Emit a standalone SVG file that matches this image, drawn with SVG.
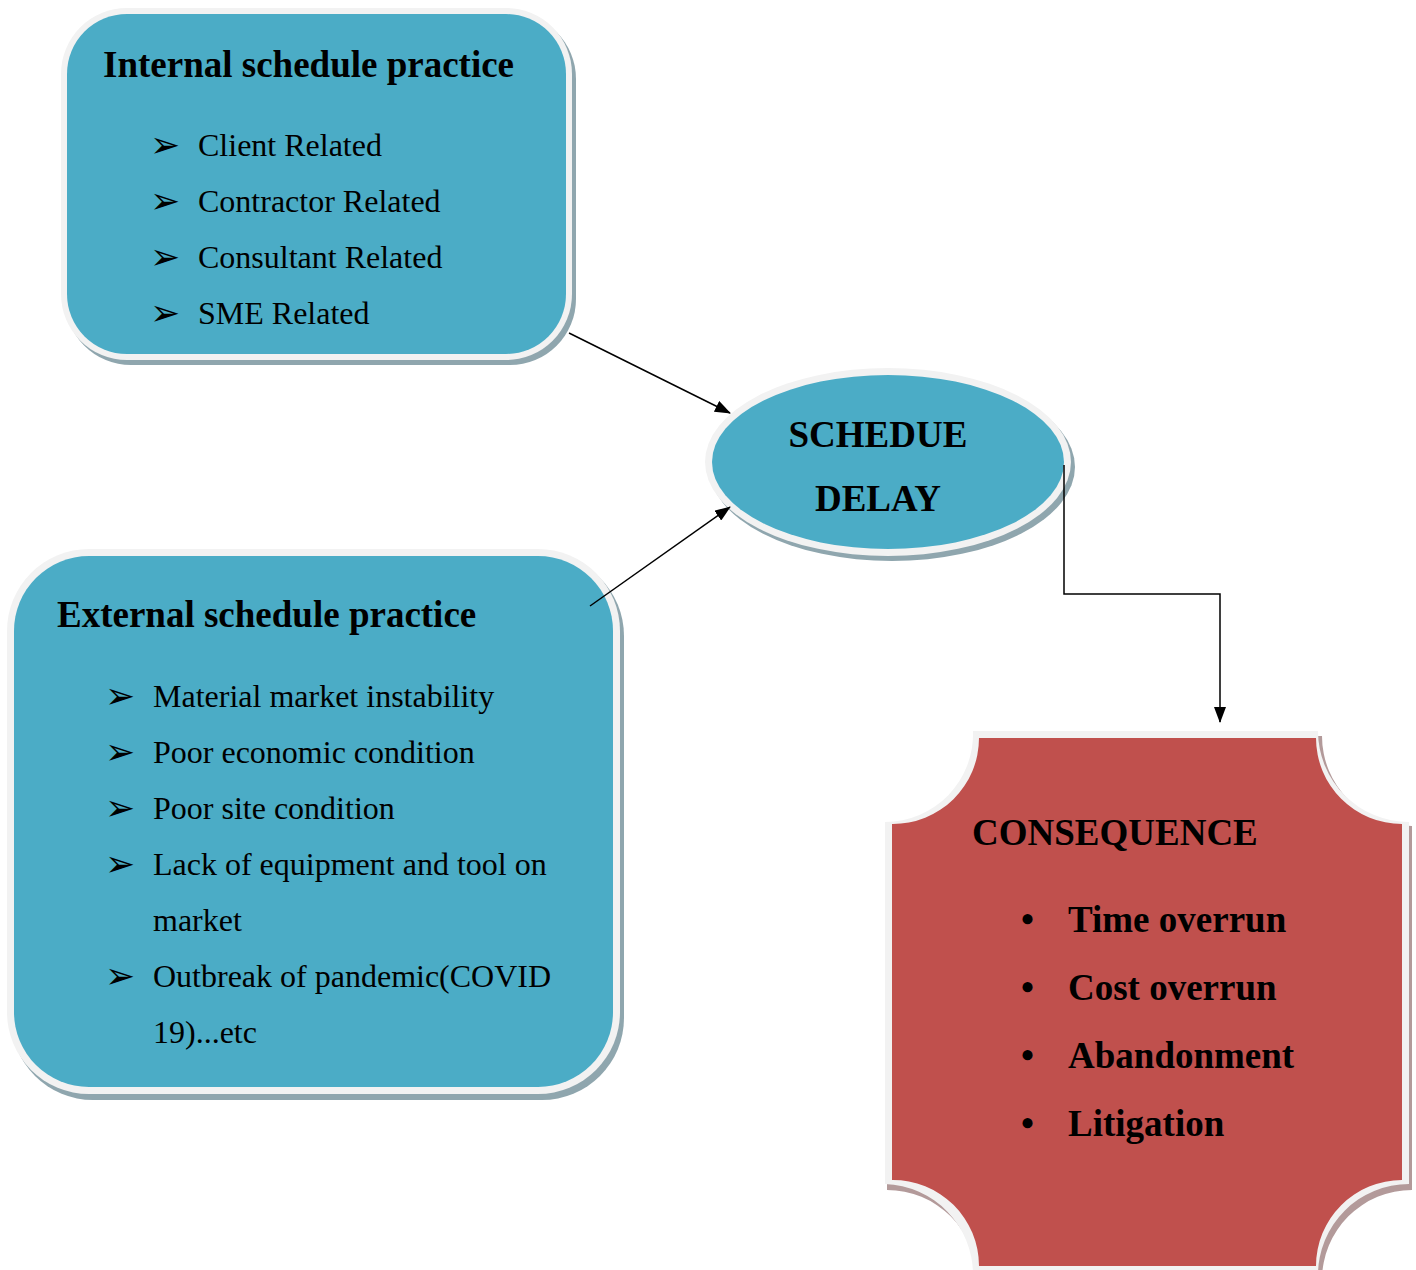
<svg xmlns="http://www.w3.org/2000/svg" width="1416" height="1270" viewBox="0 0 1416 1270">
<style>
.t{font-family:"Liberation Serif","Times New Roman",serif;fill:#000}
.h{font-weight:bold;font-size:37px}
.b{font-size:32px}
.bb{font-weight:bold;font-size:37px}
.ar{font-family:"DejaVu Sans",sans-serif;font-size:36px;fill:#000}
.blue{fill:#4bacc6}
.red{fill:#c0504d}
.rim{fill:#f2f2f2}
.shb{fill:#8fa6ae}
.shr{fill:#b39a9a}
.con{stroke:#000;stroke-width:1.5;fill:none}
</style>
<defs>
<marker id="ah" markerWidth="16" markerHeight="12" refX="15" refY="6" orient="auto" markerUnits="userSpaceOnUse">
<path d="M0,0 L16,6 L0,12 Z" fill="#000"/>
</marker>
</defs>
<rect width="1416" height="1270" fill="#fff"/>

<g id="internal">
<rect class="shb" x="65" y="13" width="511" height="352" rx="66"/>
<rect class="rim" x="61" y="8" width="511" height="352" rx="66"/>
<rect class="blue" x="67" y="14" width="499" height="340" rx="60"/>
<text class="t h" x="103" y="77">Internal schedule practice</text>
<text class="ar" x="150" y="157">➢</text>
<text class="t b" x="198" y="156">Client Related</text>
<text class="ar" x="150" y="213">➢</text>
<text class="t b" x="198" y="212">Contractor Related</text>
<text class="ar" x="150" y="269">➢</text>
<text class="t b" x="198" y="268">Consultant Related</text>
<text class="ar" x="150" y="325">➢</text>
<text class="t b" x="198" y="324">SME Related</text>
</g>

<g id="external">
<rect class="shb" x="11" y="554" width="613" height="546" rx="82"/>
<rect class="rim" x="7" y="549" width="613" height="545" rx="82"/>
<rect class="blue" x="14" y="556" width="599" height="531" rx="75"/>
<text class="t h" x="57" y="627">External schedule practice</text>
<text class="ar" x="105" y="708">➢</text>
<text class="t b" x="153" y="707">Material market instability</text>
<text class="ar" x="105" y="764">➢</text>
<text class="t b" x="153" y="763">Poor economic condition</text>
<text class="ar" x="105" y="820">➢</text>
<text class="t b" x="153" y="819">Poor site condition</text>
<text class="ar" x="105" y="876">➢</text>
<text class="t b" x="153" y="875">Lack of equipment and tool on</text>
<text class="t b" x="153" y="931">market</text>
<text class="ar" x="105" y="988">➢</text>
<text class="t b" x="153" y="987">Outbreak of pandemic(COVID</text>
<text class="t b" x="153" y="1043">19)...etc</text>
</g>

<g id="schedule-delay">
<ellipse class="shb" cx="892" cy="467" rx="183" ry="94"/>
<ellipse class="rim" cx="888" cy="462" rx="183" ry="94"/>
<ellipse class="blue" cx="888" cy="462" rx="176" ry="87"/>
<text class="t h" x="878" y="447" text-anchor="middle">SCHEDUE</text>
<text class="t h" x="878" y="511" text-anchor="middle">DELAY</text>
</g>

<g id="consequence">
<path class="shr" d="M977 736 L1322 736 A90 90 0 0 0 1412 826 L1412 1190 A90 90 0 0 0 1322 1280 L977 1280 A90 90 0 0 0 887 1190 L887 826 A90 90 0 0 0 977 736 Z"/>
<path class="rim" d="M973 731 L1318 731 A91 91 0 0 0 1409 822 L1409 1184 A91 91 0 0 0 1318 1275 L973 1275 A91 91 0 0 0 885 1184 L885 822 A88 88 0 0 0 973 731 Z"/>
<path class="red" d="M979 738 L1316 738 A86 86 0 0 0 1402 824 L1402 1180 A86 86 0 0 0 1316 1266 L979 1266 A86 86 0 0 0 892 1180 L892 824 A86 86 0 0 0 979 738 Z"/>
<text class="t bb" x="972" y="845">CONSEQUENCE</text>
<text class="t bb" x="1021" y="932">•</text>
<text class="t bb" x="1068" y="932">Time overrun</text>
<text class="t bb" x="1021" y="1000">•</text>
<text class="t bb" x="1068" y="1000">Cost overrun</text>
<text class="t bb" x="1021" y="1068">•</text>
<text class="t bb" x="1068" y="1068">Abandonment</text>
<text class="t bb" x="1021" y="1136">•</text>
<text class="t bb" x="1068" y="1136">Litigation</text>
</g>

<g id="connectors">
<line class="con" x1="569" y1="333" x2="730" y2="413" marker-end="url(#ah)"/>
<line class="con" x1="590" y1="606" x2="730" y2="507" marker-end="url(#ah)"/>
<polyline class="con" points="1064,465 1064,594 1220,594 1220,722" marker-end="url(#ah)"/>
</g>
</svg>
